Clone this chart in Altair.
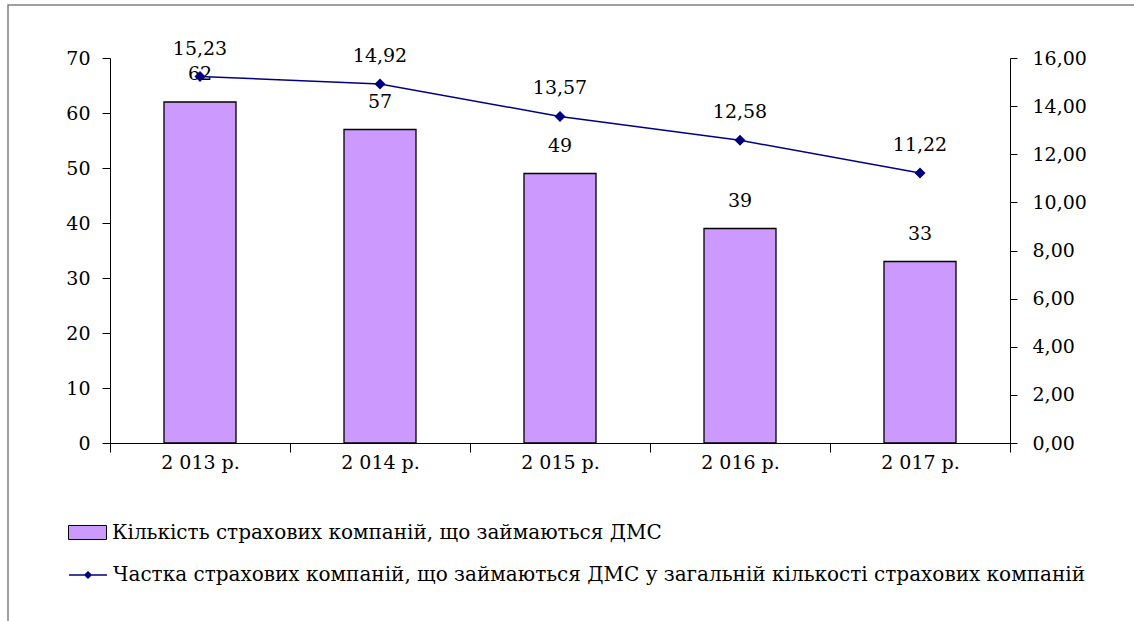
import altair as alt
import pandas as pd

years = ["2 013 р.", "2 014 р.", "2 015 р.", "2 016 р.", "2 017 р."]
counts = [62, 57, 49, 39, 33]
shares = [15.23, 14.92, 13.57, 12.58, 11.22]
left_ticks = [0, 10, 20, 30, 40, 50, 60, 70]
right_ticks = [0, 2, 4, 6, 8, 10, 12, 14, 16]
bar_name = "Кількість страхових компаній, що займаються ДМС"
line_name = "Частка страхових компаній, що займаються ДМС у загальній кількості страхових компаній"

df = pd.DataFrame({
    "year": years,
    "count": counts,
    "share": shares,
    "s1": [bar_name] * len(years),
    "s2": [line_name] * len(years),
})

FONT = "DejaVu Serif"
FS = 19
LEG_FS = 20
BAR_COLOR = "#CC99FF"
LINE_COLOR = "#000080"

x_enc = alt.X(
    "year:N",
    sort=years,
    scale=alt.Scale(paddingInner=0, paddingOuter=0),
    axis=alt.Axis(
        title=None, labelAngle=0, tickBand="extent", domainColor="black",
        tickColor="black", tickSize=9, labelFont=FONT, labelFontSize=FS,
        labelColor="black", labelPadding=1, grid=False,
    ),
)

y_left = alt.Y(
    "count:Q",
    scale=alt.Scale(domain=[0, 70]),
    axis=alt.Axis(
        title=None, orient="left", values=left_ticks, domainColor="black",
        tickColor="black", tickSize=8, labelFont=FONT, labelFontSize=FS,
        labelColor="black", labelPadding=12, grid=False,
    ),
)

y_right = alt.Y(
    "share:Q",
    scale=alt.Scale(domain=[0, 16]),
    axis=alt.Axis(
        title=None, orient="right", values=right_ticks, domainColor="black",
        tickColor="black", tickSize=7, labelFont=FONT, labelFontSize=FS,
        labelColor="black", labelPadding=15, grid=False,
        labelExpr="replace(format(datum.value, '.2f'), '.', ',')",
    ),
)

base = alt.Chart(df)

rect_path = "M-1,-0.37L1,-0.37L1,0.37L-1,0.37Z"
line_path = "M-1,0L1,0M-0.16,0L0,-0.16L0.16,0L0,0.16Z"

bars = base.mark_bar(stroke="black", strokeWidth=1.3, width=alt.RelativeBandSize(0.4)).encode(
    x=x_enc,
    y=y_left,
    fill=alt.Fill(
        "s1:N",
        scale=alt.Scale(domain=[bar_name], range=[BAR_COLOR]),
        legend=alt.Legend(
            title=None, orient="none", legendX=-42, legendY=455,
            symbolType=rect_path, symbolSize=1444, symbolStrokeColor="black",
            symbolStrokeWidth=1, labelFont=FONT, labelFontSize=LEG_FS,
            labelColor="black", labelLimit=2000, labelOffset=5, padding=0,
        ),
    ),
)

bar_text = base.mark_text(dy=-28, font=FONT, fontSize=FS, color="black").encode(
    x=x_enc, y=y_left, text="count:Q"
)

line = base.mark_line(strokeWidth=1.5).encode(
    x=x_enc,
    y=y_right,
    stroke=alt.Stroke(
        "s2:N",
        scale=alt.Scale(domain=[line_name], range=[LINE_COLOR]),
        legend=alt.Legend(
            title=None, orient="none", legendX=-42, legendY=497,
            symbolType=line_path, symbolSize=1444, symbolStrokeWidth=1.5,
            symbolFillColor=LINE_COLOR, labelFont=FONT, labelFontSize=LEG_FS,
            labelColor="black", labelLimit=2000, labelOffset=5, padding=0,
        ),
    ),
)

points = base.mark_point(shape="diamond", filled=True, size=121, color=LINE_COLOR, opacity=1).encode(
    x=x_enc, y=y_right
)

line_text = base.transform_calculate(
    lbl="replace(format(datum.share, '.2f'), '.', ',')"
).mark_text(dy=-28, font=FONT, fontSize=FS, color="black").encode(
    x=x_enc, y=y_right, text="lbl:N"
)

frame = alt.Chart(pd.DataFrame({"a": [0]})).mark_rect(
    fill="transparent", stroke="#808080", strokeWidth=1.5
).encode(
    x=alt.value(-102), x2=alt.value(1030), y=alt.value(-53), y2=alt.value(580)
)

chart = alt.layer(
    frame,
    alt.layer(bars, bar_text),
    alt.layer(line, points, line_text),
).resolve_scale(y="independent").properties(
    width=900,
    height=385,
    autosize=alt.AutoSizeParams(type="none"),
    padding={"left": 110, "top": 58, "right": 124, "bottom": 178},
    background="white",
).configure_view(strokeWidth=0)

chart.save("out.html", embed_options={"renderer": "svg", "actions": False})
